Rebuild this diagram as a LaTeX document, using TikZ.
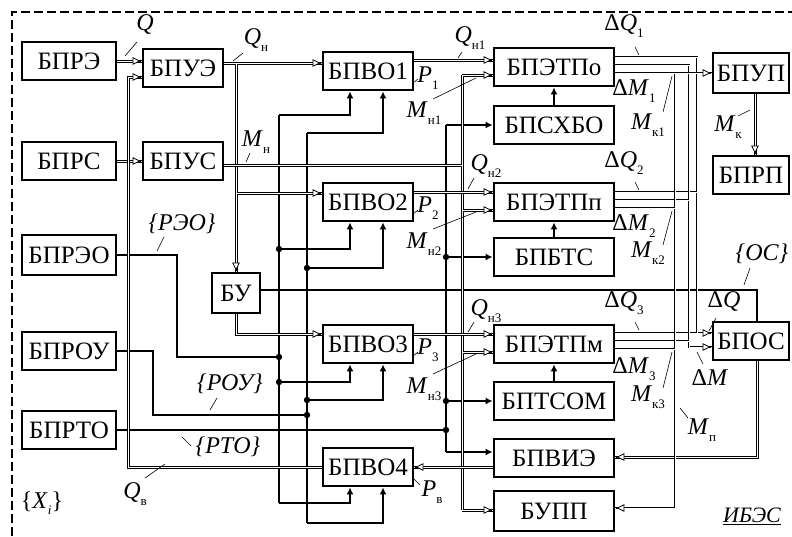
\documentclass[tikz,border=0pt]{standalone}
\usepackage{fontspec}
\setmainfont{Liberation Serif}
\usetikzlibrary{arrows.meta}
\newcommand{\lb}[2]{\textit{#1}\raisebox{-0.6ex}{\fontsize{13}{13}\selectfont #2}}
\begin{document}
\begin{tikzpicture}[x=1pt,y=-1pt,
 box/.style={draw, line width=2.8pt, inner sep=0pt, minimum height=38pt, font=\fontsize{25}{25}\selectfont},
 dline/.style={line width=3pt, postaction={draw=white, line width=1pt}},
 bline/.style={line width=2.5pt, postaction={draw=white, line width=0.9pt}},
 tipa/.style={line width=0.8pt, -{Latex[fill=white,length=9pt,width=8pt]}},
 thk/.style={line width=2.5pt},
 thka/.style={thk, -{Latex[length=7pt,width=7pt]}},
 lab/.style={font=\fontsize{24}{24}\selectfont, inner sep=0pt},
 tk/.style={line width=0.6pt},
]
\useasboundingbox (0,0) rectangle (792,536);
\draw[line width=1.2pt, dash pattern=on 9pt off 4pt] (12,536) -- (12,12) -- (792,12);

% boxes
\node[box, minimum width=94pt] (bpre) at (69,61) {БПРЭ};
\node[box, minimum width=80pt] (bpue) at (183,68) {БПУЭ};
\node[box, minimum width=94pt] (bprs) at (69,161) {БПРС};
\node[box, minimum width=80pt] (bpus) at (183,161) {БПУС};
\node[box, minimum width=94pt, minimum height=40pt] (bpreo) at (69,255) {БПРЭО};
\node[box, minimum width=94pt] (bprou) at (69,351) {БПРОУ};
\node[box, minimum width=94pt] (bprto) at (69,430) {БПРТО};
\node[box, minimum width=48pt, minimum height=40pt] (bu) at (236,293) {БУ};
\node[box, minimum width=90pt] (bpvo1) at (368,71) {БПВО1};
\node[box, minimum width=90pt] (bpvo2) at (368,202) {БПВО2};
\node[box, minimum width=90pt] (bpvo3) at (368,344) {БПВО3};
\node[box, minimum width=90pt] (bpvo4) at (368,467) {БПВО4};
\node[box, minimum width=120pt] (bpetpo) at (554,67) {БПЭТПо};
\node[box, minimum width=120pt] (bpshbo) at (554,125) {БПСХБО};
\node[box, minimum width=120pt] (bpetpp) at (554,202) {БПЭТПп};
\node[box, minimum width=120pt] (bpbts) at (554,257) {БПБТС};
\node[box, minimum width=120pt] (bpetpm) at (554,344) {БПЭТПм};
\node[box, minimum width=120pt] (bptsom) at (554,401) {БПТСОМ};
\node[box, minimum width=120pt] (bpvie) at (554,458) {БПВИЭ};
\node[box, minimum width=120pt, minimum height=40pt] (bupp) at (554,511) {БУПП};
\node[box, minimum width=76pt, minimum height=40pt] (bpup) at (751,73) {БПУП};
\node[box, minimum width=76pt] (bprp) at (751,175) {БПРП};
\node[box, minimum width=76pt] (bpos) at (751,341) {БПОС};

% thick control lines
\draw[thk] (279,115) -- (279,503);
\draw[thk] (307,133) -- (307,523);
\draw[thk] (446,125) -- (446,452);
\draw[thka] (279,115) -| ([xshift=-18pt]bpvo1.south);
\draw[thka] (307,133) -| ([xshift=15pt]bpvo1.south);
\draw[thka] (279,249) -| ([xshift=-18pt]bpvo2.south);
\draw[thka] (307,268) -| ([xshift=15pt]bpvo2.south);
\draw[thka] (279,382) -| ([xshift=-18pt]bpvo3.south);
\draw[thka] (307,400) -| ([xshift=15pt]bpvo3.south);
\draw[thka] (279,503) -| ([xshift=-18pt]bpvo4.south);
\draw[thka] (307,523) -| ([xshift=15pt]bpvo4.south);
\draw[thk] (bpreo.east) -- (177,255) -- (177,357) -- (279,357);
\draw[thk] (bprou.east) -- (153,351) -- (153,415) -- (307,415);
\draw[thk] (bprto.east) -- (446,430);
\draw[thk] (bu.east |- 0,290) -- (757,290) -- (bpos.north -| 757,0);
\draw[thka] (446,125) -- (bpshbo.west);
\draw[thka] (446,257) -- (bpbts.west);
\draw[thka] (446,401) -- (bptsom.west);
\draw[thka] (446,452) -- (bpvie.west |- 0,452);
\draw[thka] (bpshbo.north) -- (bpetpo.south);
\draw[thka] (bpbts.north) -- (bpetpp.south);
\draw[thka] (bptsom.north) -- (bpetpm.south);
\foreach \p in {(279,249),(307,268),(279,382),(307,400),(279,357),(307,415),(446,257),(446,401),(446,430)}
  \fill \p circle (3.2pt);

% double lines: inputs
\draw[dline] (bpre.east) -- (bpre.east -| bpue.west);
\draw[tipa] (141,61) -- (bpre.east -| bpue.west);
\draw[dline] (bprs.east) -- (bpus.west);
\draw[tipa] (141,161) -- (bpus.west);
\draw[dline] (bpvo4.west) -- (128,467) -- (128,77) -- (bpue.west |- 0,77);
\draw[tipa] (141,77) -- (bpue.west |- 0,77);
% Q_n network
\draw[dline] (bpue.east |- 0,63) -- (bpvo1.west |- 0,63) (236,63) -- (bu.north) (236,193) -- (bpvo2.west |- 0,193);
\draw[tipa] (321,63) -- (bpvo1.west |- 0,63);
\draw[tipa] (321,193) -- (bpvo2.west |- 0,193);
\draw[tipa] (236,271) -- (bu.north);
\draw[dline] (bu.south) -- (236,334) -- (bpvo3.west |- 0,334);
\draw[tipa] (321,334) -- (bpvo3.west |- 0,334);
% M_n network
\draw[dline] (bpus.east |- 0,165) -- (462,165) (462,75) -- (462,510) (462,75) -- (bpetpo.west |- 0,75) (462,210) -- (bpetpp.west |- 0,210) (462,352) -- (bpetpm.west |- 0,352) (462,510) -- (bupp.west |- 0,510);
\draw[tipa] (492,75) -- (bpetpo.west |- 0,75);
\draw[tipa] (492,210) -- (bpetpp.west |- 0,210);
\draw[tipa] (492,352) -- (bpetpm.west |- 0,352);
\draw[tipa] (492,510) -- (bupp.west |- 0,510);
% Q_n1..3
\draw[dline] (bpvo1.east |- 0,60) -- (bpetpo.west |- 0,60);
\draw[tipa] (492,60) -- (bpetpo.west |- 0,60);
\draw[dline] (bpvo2.east |- 0,192) -- (bpetpp.west |- 0,192);
\draw[tipa] (492,192) -- (bpetpp.west |- 0,192);
\draw[dline] (bpvo3.east |- 0,334) -- (bpetpm.west |- 0,334);
\draw[tipa] (492,334) -- (bpetpm.west |- 0,334);
% feedback
\draw[dline] (bpvie.west |- 0,467) -- (bpvo4.east |- 0,467);
\draw[tipa] (415,467) -- (bpvo4.east |- 0,467);
\draw[dline] (bpos.south -| 757,0) -- (757,457) -- (bpvie.east |- 0,457);
\draw[tipa] (616,457) -- (bpvie.east |- 0,457);
\draw[dline] (bpup.south -| 755,0) -- (bprp.north -| 755,0);
\draw[tipa] (755,154) -- (bprp.north -| 755,0);
% bundle
\draw[bline] (bpetpo.east |- 0,57) -- (697,57) -- (697,333) (bpetpp.east |- 0,192) -- (697,192) (bpetpm.east |- 0,333) -- (bpos.west |- 0,333);
\draw[tipa] (711,333) -- (bpos.west |- 0,333);
\draw[bline] (bpetpo.east |- 0,65) -- (689,65) -- (689,347) -- (bpos.west |- 0,347) (bpetpp.east |- 0,200) -- (689,200) (bpetpm.east |- 0,341) -- (689,341);
\draw[tipa] (711,347) -- (bpos.west |- 0,347);
\draw[bline] (bpetpo.east |- 0,73) -- (bpup.west |- 0,73) (675,73) -- (675,508) -- (bupp.east |- 0,508) (bpetpp.east |- 0,208) -- (675,208) (bpetpm.east |- 0,349) -- (675,349);
\draw[tipa] (711,73) -- (bpup.west |- 0,73);
\draw[tipa] (616,508) -- (bupp.east |- 0,508);

% labels
\node[lab] (lq) at (145,24) {\textit{Q}};
\draw[tk] (137,42) -- (125,56);
\node[lab] (lqn) at (256,40) {\lb{Q}{н}};
\draw[tk] (243,53) -- (233,61);
\node[lab] (lmn) at (256,142) {\lb{M}{н}};
\draw[tk] (250,153) -- (246,162);
\node[lab] (lqn1) at (470,38) {\lb{Q}{н1}};
\draw[tk] (462,52) -- (458,58);
\node[lab] (lp1) at (428,78) {\lb{P}{1}};
\draw[tk] (413,83) -- (418,79);
\node[lab] (lmn1) at (424,113) {\lb{M}{н1}};
\draw[tk] (433,99) -- (476,78);
\node[lab] (lqn2) at (486,166) {\lb{Q}{н2}};
\draw[tk] (474,178) -- (468,189);
\node[lab] (lp2) at (428,208) {\lb{P}{2}};
\draw[tk] (413,214) -- (418,210);
\node[lab] (lmn2) at (424,244) {\lb{M}{н2}};
\draw[tk] (433,229) -- (476,212);
\node[lab] (lqn3) at (486,311) {\lb{Q}{н3}};
\draw[tk] (474,322) -- (468,332);
\node[lab] (lp3) at (428,350) {\lb{P}{3}};
\draw[tk] (413,356) -- (418,352);
\node[lab] (lmn3) at (424,389) {\lb{M}{н3}};
\draw[tk] (433,374) -- (476,354);
\node[lab] (lpv) at (432,492) {\lb{P}{в}};
\draw[tk] (413,478) -- (420,485);
\node[lab] (lqv) at (135,494) {\lb{Q}{в}};
\draw[tk] (145,478) -- (165,464);
\node[lab] (lxi) at (42,503) {\{\lb{X}{\itshape i}\}};
\node[lab] (lreo) at (182,224) {\textit{\{РЭО\}}};
\draw[tk] (164,237) -- (157,251);
\node[lab] (lrou) at (230,384) {\textit{\{РОУ\}}};
\draw[tk] (217,398) -- (210,410);
\node[lab] (lrto) at (228,447) {\textit{\{РТО\}}};
\draw[tk] (182,437) -- (191,446);
\node[lab] (los) at (762,254) {\textit{\{ОС\}}};
\draw[tk] (750,268) -- (744,285);
\node[lab] (ldq1) at (624,26) {Δ\lb{Q}{1}};
\draw[tk] (635,47) -- (639,55);
\node[lab] (ldm1) at (634,91) {Δ\lb{M}{1}};
\node[lab] (lmk1) at (648,125) {\lb{M}{к1}};
\draw[tk] (663,112) -- (672,76);
\node[lab] (ldq2) at (624,163) {Δ\lb{Q}{2}};
\draw[tk] (635,182) -- (639,190);
\node[lab] (ldm2) at (634,226) {Δ\lb{M}{2}};
\node[lab] (lmk2) at (648,253) {\lb{M}{к2}};
\draw[tk] (663,245) -- (672,211);
\node[lab] (ldq3) at (624,303) {Δ\lb{Q}{3}};
\draw[tk] (635,322) -- (639,330);
\node[lab] (ldm3) at (634,369) {Δ\lb{M}{3}};
\node[lab] (lmk3) at (648,397) {\lb{M}{к3}};
\draw[tk] (663,388) -- (672,352);
\node[lab] (ldq) at (724,301) {Δ\textit{Q}};
\draw[tk] (716,318) -- (709,331);
\node[lab] (ldm) at (710,378) {Δ\textit{M}};
\draw[tk] (697,352) -- (703,364);
\node[lab] (lmp) at (702,430) {\lb{M}{п}};
\draw[tk] (680,408) -- (688,418);
\node[lab] (lmk) at (728,127) {\lb{M}{к}};
\draw[tk] (738,116) -- (750,110);
\node[lab, font=\fontsize{22}{22}\selectfont\itshape] (ibes) at (752,516) {\underline{ИБЭС}};
\end{tikzpicture}
\end{document}
